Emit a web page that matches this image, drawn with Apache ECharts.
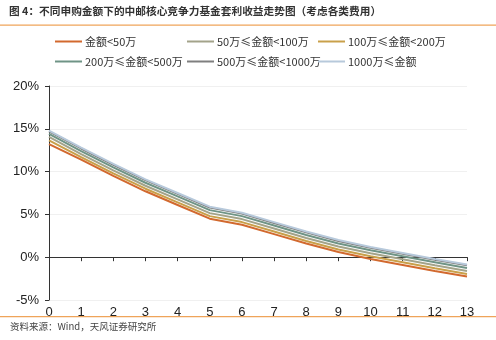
<!DOCTYPE html>
<html>
<head>
<meta charset="utf-8">
<script src="https://cdn.jsdelivr.net/npm/echarts@6/dist/echarts.min.js"></script>
<style>
html,body{margin:0;padding:0;background:#fff;}
#c{width:496px;height:340px;}
</style>
</head>
<body>
<div id="c"></div>
<script>
var years = [0,1,2,3,4,5,6,7,8,9,10,11,12,13];
var seriesNames = ['金额<50万','50万≤金额<100万','100万≤金额<200万','200万≤金额<500万','500万≤金额<1000万','1000万≤金额'];
var vLt50 = [13.2,11.4,9.5,7.7,6.1,4.5,3.8,2.7,1.6,0.6,-0.2,-0.9,-1.6,-2.25];
var v50to100 = [14.05,12.05,10.15,8.35,6.75,5.15,4.45,3.35,2.25,1.25,0.45,-0.25,-0.95,-1.6];
var v100to200 = [13.65,11.7,9.8,8.0,6.4,4.8,4.1,3.0,1.9,0.9,0.1,-0.6,-1.3,-1.95];
var v200to500 = [14.4,12.4,10.5,8.7,7.1,5.5,4.8,3.7,2.6,1.6,0.8,0.1,-0.6,-1.25];
var v500to1000 = [14.7,12.7,10.8,9.0,7.4,5.8,5.1,4.0,2.9,1.9,1.1,0.4,-0.3,-0.95];
var vGe1000 = [14.8,12.8,10.9,9.1,7.5,5.9,5.2,4.1,3.0,2.0,1.2,0.5,-0.2,-0.85];
var yTicks = [-5,0,5,10,15,20];

var allValues = [vLt50, v50to100, v100to200, v200to500, v500to1000, vGe1000];
var colors = ['#D2692E','#A3A38A','#C9A04A','#6F9486','#7F7F7F','#B7C9DB'];
var drawOrder = [4,5,3,1,2,0];

var chart = echarts.init(document.getElementById('c'));
var legendPos = [[55,36],[187,36],[318,36],[55,56],[187,56],[318,56]];
var legends = seriesNames.map(function(n,i){
  return {
    left: legendPos[i][0], top: legendPos[i][1],
    data:[n], icon:'rect', itemWidth:27, itemHeight:2,
    padding:0, itemGap:0,
    textStyle:{fontSize:11, color:'#333', fontFamily:'Noto Sans CJK SC', padding:[0,0,0,-2]},
    selectedMode:false
  };
});
var series = drawOrder.map(function(i){
  return {
    name: seriesNames[i], type:'line', symbol:'none', smooth:false,
    data: years.map(function(x,k){return [x, allValues[i][k]];}),
    lineStyle:{width:2, color:colors[i]}, itemStyle:{color:colors[i]},
    emphasis:{disabled:true}, z: 2
  };
});
chart.setOption({
  animation:false,
  backgroundColor:'#fff',
  legend: legends,
  grid:{left:49, right:29, top:86, bottom:40, containLabel:false},
  xAxis:{type:'value', min:0, max:13, interval:1,
    axisLine:{onZero:true, lineStyle:{color:'#333', width:1}},
    axisTick:{show:true, length:4, lineStyle:{color:'#333'}},
    axisLabel:{fontSize:13, color:'#222', margin:6, fontFamily:'Liberation Sans'},
    splitLine:{show:false}},
  yAxis:{type:'value', min:yTicks[0], max:yTicks[yTicks.length-1], interval:5,
    axisLine:{show:true, lineStyle:{color:'#333', width:1}},
    axisTick:{show:true, length:4, lineStyle:{color:'#333'}},
    axisLabel:{fontSize:13, color:'#222', margin:10, fontFamily:'Liberation Sans', formatter:function(v){return v+'%';}},
    splitLine:{show:true, lineStyle:{color:'#F0F0F0', width:1}}},
  series: series,
  graphic:[
    {type:'text', left:9, top:6, style:{text:'图 4：不同申购金额下的中邮核心竞争力基金套利收益走势图（考虑各类费用）', font:'bold 10.7px "Noto Sans CJK SC"', fill:'#333'}},
    {type:'rect', shape:{x:0,y:24.5,width:496,height:1.2}, style:{fill:'#EFA45A'}},
    {type:'rect', shape:{x:0,y:316,width:496,height:1.2}, style:{fill:'#EFA45A'}},
    {type:'text', left:10, top:322, style:{text:'资料来源：Wind，天风证券研究所', font:'9.5px "Noto Sans CJK SC"', fill:'#444'}}
  ]
});
</script>
</body>
</html>
